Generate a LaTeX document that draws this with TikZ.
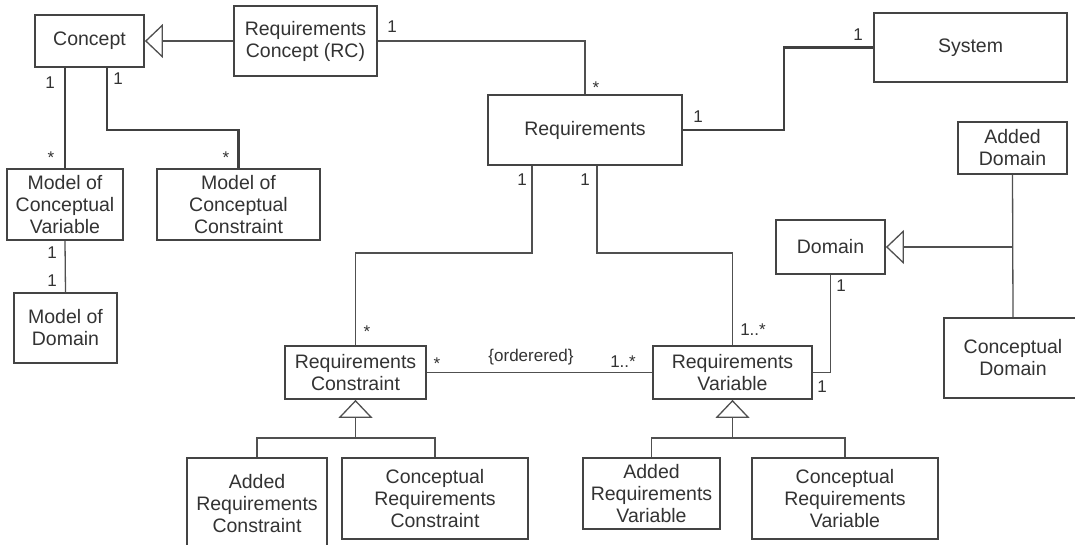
\documentclass[tikz,border=0pt]{standalone}
\usepackage{fontspec}
\setmainfont{Liberation Sans}
\usetikzlibrary{arrows.meta}
\definecolor{txt}{HTML}{333333}
\definecolor{ln}{HTML}{505050}
\definecolor{bd}{HTML}{444444}
\tikzset{
  box/.style={draw=bd, line width=1.8pt, fill=white, inner sep=0pt, align=center,
    text=txt, font=\fontsize{19.5}{22}\selectfont},
  conn/.style={draw=ln, line width=1.3pt, line join=miter},
  thickconn/.style={draw=ln!80!black, line width=2.4pt, line join=miter},
  gen/.style={conn, -{Triangle[open, length=18pt, width=34pt, fill=white]}},
  mult/.style={text=txt, inner sep=0pt, font=\fontsize{17}{20}\selectfont}
}
\begin{document}
\begin{tikzpicture}[x=1pt,y=-1pt]
\useasboundingbox (0,0) rectangle (1075,545);
\fill[white] (0,0) rectangle (1075,545);

% boxes
\node[box, minimum width=109pt, minimum height=52pt] (concept) at (89.5,41) {Concept};
\node[box, minimum width=143pt, minimum height=70pt] (rc) at (305.5,41) {Requirements\\Concept (RC)};
\node[box, minimum width=193pt, minimum height=69pt] (sys) at (970.5,47.5) {System};
\node[box, minimum width=194pt, minimum height=70pt] (req) at (585,130) {Requirements};
\node[box, minimum width=116pt, minimum height=71pt] (mcv) at (65,204.5) {Model of\\Conceptual\\Variable};
\node[box, minimum width=163pt, minimum height=71pt] (mcc) at (238.5,204.5) {Model of\\Conceptual\\Constraint};
\node[box, minimum width=103pt, minimum height=70pt] (mod) at (65.5,328) {Model of\\Domain};
\node[box, minimum width=109pt, minimum height=52pt] (adom) at (1012.5,148) {Added\\Domain};
\node[box, minimum width=109pt, minimum height=54pt] (dom) at (830.5,247) {Domain};
\node[box, minimum width=138pt, minimum height=80pt] (cdom) at (1013,358) {Conceptual\\Domain};
\node[box, minimum width=141pt, minimum height=53pt] (rcons) at (355.5,372.5) {Requirements\\Constraint};
\node[box, minimum width=159pt, minimum height=53pt] (rvar) at (732.5,372.5) {Requirements\\Variable};
\node[box, minimum width=140pt, minimum height=92pt] (arc) at (257,504) {Added\\Requirements\\Constraint};
\node[box, minimum width=186pt, minimum height=81pt] (crc) at (435,498.5) {Conceptual\\Requirements\\Constraint};
\node[box, minimum width=137pt, minimum height=71pt] (arv) at (651.5,493.5) {Added\\Requirements\\Variable};
\node[box, minimum width=186pt, minimum height=81pt] (crv) at (845,498.5) {Conceptual\\Requirements\\Variable};

% connectors
\draw[gen] (rc.west) -- (concept.east);
\draw[conn] (rc.east) -| (req.north);
\draw[thickconn] (req.east) -| ([xshift=-89pt]sys.west) -- (sys.west);
\draw[thickconn] (mcv.north |- concept.south) -- (mcv.north);
\draw[thickconn] ([xshift=73pt]concept.south west) |- ([yshift=38pt]mcc.north) -- (mcc.north);
\draw[conn] (mcv.south) -- (mod.north);
\draw[conn] ([xshift=45pt]req.south west) |- ([yshift=92pt]rcons.north) -- (rcons.north);
\draw[conn] ([xshift=110pt]req.south west) |- ([yshift=92pt]rvar.north) -- (rvar.north);
\draw[conn] (rcons.east) -- (rvar.west);
\draw[conn] (dom.south) |- (rvar.east);
\draw[conn] (adom.south) -- (cdom.north);
\draw[gen] (adom.south |- dom.east) -- (dom.east);
\draw[gen] ([yshift=-38pt]rcons.south) -- (rcons.south);
\draw[conn] (arc.north) |- ([yshift=-38pt]rcons.south) -| (crc.north);
\draw[gen] ([yshift=-38pt]rvar.south) -- (rvar.south);
\draw[conn] (arv.north) |- ([yshift=-38pt]rvar.south) -| (crv.north);

% multiplicities
\node[mult] (m1) at (392,27) {1};
\node[mult] (m2) at (596,88) {*};
\node[mult] (m3) at (698,117) {1};
\node[mult] (m4) at (858,35) {1};
\node[mult] (m5) at (50,83) {1};
\node[mult] (m6) at (51,158) {*};
\node[mult] (m7) at (118,79) {1};
\node[mult] (m8) at (226,158) {*};
\node[mult] (m9) at (52,253) {1};
\node[mult] (m10) at (52,281) {1};
\node[mult] (m11) at (522,180) {1};
\node[mult] (m12) at (585,180) {1};
\node[mult] (m13) at (367,332) {*};
\node[mult] (m14) at (753,330) {1..*};
\node[mult] (m15) at (437,364) {*};
\node[mult] (m16) at (623,362) {1..*};
\node[mult] (m17) at (531,357) {\{orderered\}};
\node[mult] (m18) at (841,286) {1};
\node[mult] (m19) at (822,387) {1};
\end{tikzpicture}
\end{document}
